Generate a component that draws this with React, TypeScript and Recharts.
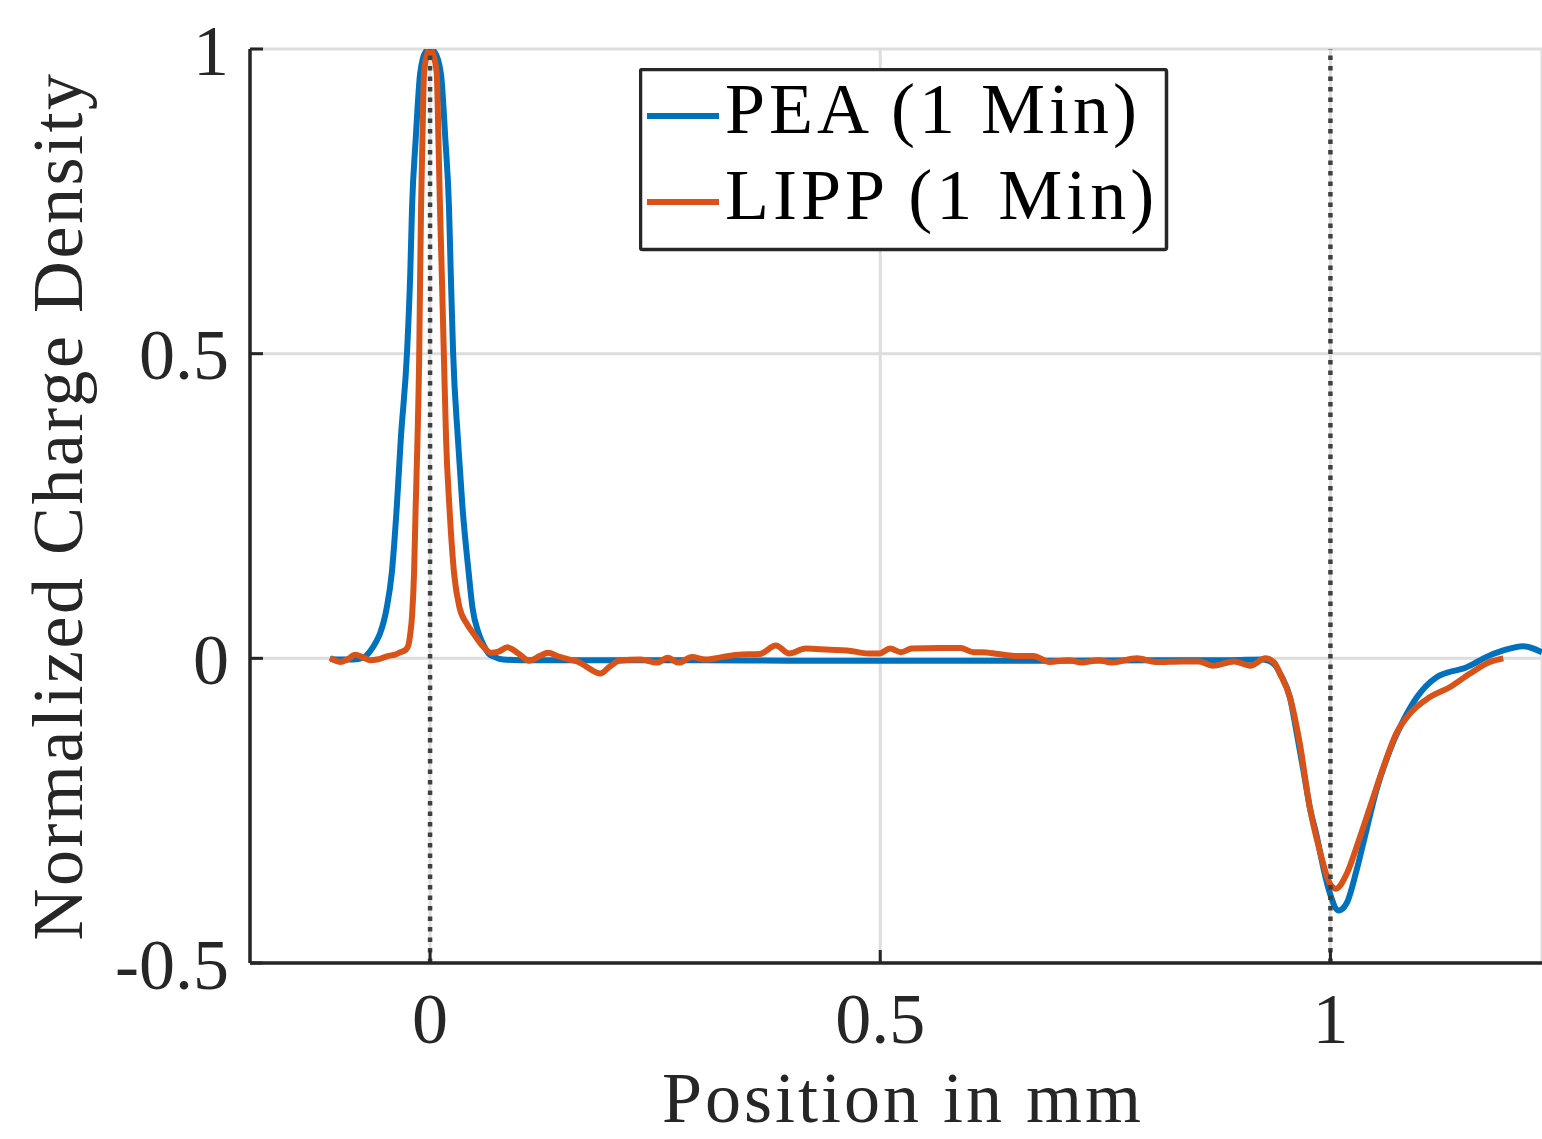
// Normalized charge density profiles, PEA vs. LIPP, drawn with Recharts

import { LineChart, Line, XAxis, YAxis, CartesianGrid, ReferenceLine, Legend, Label } from 'recharts';

// position in mm / normalized density
const peaX = [
  -0.111, -0.1, -0.09, -0.08, -0.072, -0.066, -0.06, -0.0555, -0.048, -0.0426, -0.037, -0.0326,
  -0.0255, -0.022, -0.02, -0.016, -0.011, -0.005, 0, 0.005, 0.012, 0.017, 0.021, 0.023, 0.0255,
  0.031, 0.036, 0.043, 0.047, 0.054, 0.06, 0.065, 0.072, 0.081, 0.1, 0.2, 0.3, 0.4, 0.5, 0.6, 0.7,
  0.8, 0.888, 0.925, 0.933, 0.94, 0.944, 0.955, 0.962, 0.97, 0.977, 0.985, 0.992, 0.9995, 1.009,
  1.018, 1.029, 1.04, 1.051, 1.066, 1.081, 1.096, 1.118, 1.133, 1.147, 1.159, 1.17, 1.192, 1.214,
  1.235,
];
const peaY = [
  -0.001, -0.002, -0.002, -0.001, 0.003, 0.013, 0.027, 0.041, 0.084, 0.139, 0.248, 0.358,
  0.505, 0.632, 0.741, 0.851, 0.96, 0.995, 1.0, 0.995, 0.96, 0.851, 0.741, 0.632, 0.505,
  0.358, 0.248, 0.139, 0.084, 0.041, 0.02, 0.008, 0.002, -0.002, -0.003, -0.003, -0.003, -0.004,
  -0.004, -0.004, -0.004, -0.003, -0.003, -0.002, -0.005, -0.014, -0.025, -0.064, -0.118, -0.184,
  -0.244, -0.293, -0.343, -0.386, -0.414, -0.402, -0.348, -0.282, -0.217, -0.151, -0.102, -0.064,
  -0.031, -0.022, -0.017, -0.009, 0.0, 0.013, 0.02, 0.01,
];

const lippX = [
  -0.111, -0.105, -0.1, -0.092, -0.083, -0.075, -0.067, -0.059, -0.052, -0.046, -0.039, -0.033,
  -0.027, -0.024, -0.022, -0.02, -0.0178, -0.016, -0.014, -0.012, -0.011, -0.01, -0.0085, -0.0067,
  -0.003, 0, 0.003, 0.0074, 0.0093, 0.011, 0.013, 0.0152, 0.0178, 0.0215, 0.0267, 0.0326, 0.0407,
  0.048, 0.059, 0.068, 0.076, 0.086, 0.098, 0.11, 0.122, 0.131, 0.143, 0.155, 0.165, 0.174, 0.189,
  0.2, 0.21, 0.234, 0.252, 0.264, 0.276, 0.291, 0.306, 0.324, 0.342, 0.366, 0.384, 0.399, 0.417,
  0.444, 0.463, 0.487, 0.499, 0.511, 0.523, 0.535, 0.565, 0.589, 0.604, 0.613, 0.631, 0.649, 0.67,
  0.688, 0.709, 0.724, 0.742, 0.757, 0.785, 0.806, 0.836, 0.854, 0.869, 0.893, 0.911, 0.928, 0.937,
  0.944, 0.955, 0.966, 0.977, 0.988, 0.9995, 1.006, 1.018, 1.029, 1.044, 1.059, 1.073, 1.088, 1.11,
  1.133, 1.155, 1.177, 1.192,
];
const lippY = [
  0.001, -0.004, -0.006, -0.002, 0.006, 0.002, -0.003, -0.002, 0.001, 0.004, 0.006, 0.01,
  0.014, 0.022, 0.04, 0.07, 0.139, 0.248, 0.358, 0.505, 0.632, 0.741, 0.851, 0.96,
  0.993, 1.0, 0.993, 0.96, 0.851, 0.741, 0.632, 0.505, 0.358, 0.248, 0.139, 0.084, 0.057,
  0.041, 0.019, 0.009, 0.011, 0.018, 0.008, -0.004, 0.004, 0.009, 0.003, -0.002, -0.006, -0.014, -0.025,
  -0.013, -0.004, -0.002, -0.007, 0.001, -0.007, 0.002, -0.002, 0.002, 0.006, 0.007, 0.021, 0.008, 0.016,
  0.014, 0.013, 0.008, 0.008, 0.016, 0.01, 0.016, 0.017, 0.017, 0.01, 0.01, 0.007, 0.004, 0.004,
  -0.006, -0.003, -0.007, -0.003, -0.007, 0.0, -0.006, -0.005, -0.005, -0.012, -0.005, -0.012, 0.0, -0.006,
  -0.025, -0.064, -0.14, -0.244, -0.315, -0.37, -0.378, -0.354, -0.31, -0.244, -0.178, -0.124, -0.091, -0.064,
  -0.047, -0.025, -0.006, 0.0,
];

const xTicks = [0, 0.5, 1];
const yTicks = [-0.5, 0, 0.5, 1];
const electrodeLines = [0, 1];
const seriesNames = ['PEA (1 Min)', 'LIPP (1 Min)'];
const COLORS = ['#0072BD', '#D95319'];

const FONT = '"Liberation Serif", "Times New Roman", serif';
const INK = '#262626';

const peaData = peaX.map((x, i) => ({ x, y: peaY[i] }));
const lippData = lippX.map((x, i) => ({ x, y: lippY[i] }));

function LegendBox() {
  return (
    <svg width={530} height={184} style={{ display: 'block' }}>
      <rect x={1.5} y={1.5} width={526} height={180} fill="#fff" stroke={INK} strokeWidth={3.5} rx={2} />
      {seriesNames.map((name, i) => (
        <g key={name}>
          <line x1={8} x2={80} y1={48 + i * 86} y2={48 + i * 86} stroke={COLORS[i]} strokeWidth={6} />
          <text x={86} y={65 + i * 86} fontFamily={FONT} fontSize={72} letterSpacing={4} fill="#000">
            {name}
          </text>
        </g>
      ))}
    </svg>
  );
}

export default function App() {
  const tickStyle = { fontFamily: FONT, fontSize: 72, fill: INK };

  return (
    <div style={{ position: 'absolute', left: 0, top: 0, background: '#fff' }}>
      <LineChart width={1542} height={1139} margin={{ top: 49, right: 0, bottom: 0, left: 0 }}>
        <CartesianGrid stroke="#dddddd" strokeWidth={3} />
        <XAxis
          type="number"
          dataKey="x"
          domain={[-0.2, 1.235]}
          ticks={xTicks}
          allowDataOverflow
          height={176}
          tick={tickStyle}
          tickSize={-13}
          tickMargin={42}
          axisLine={{ stroke: INK, strokeWidth: 3.5 }}
          tickLine={{ stroke: INK, strokeWidth: 3 }}
        >
          <Label
            content={() => (
              <text x={903} y={1122} textAnchor="middle" fontFamily={FONT} fontSize={72} letterSpacing={3} fill={INK}>
                Position in mm
              </text>
            )}
          />
        </XAxis>
        <YAxis
          type="number"
          domain={[-0.5, 1]}
          ticks={yTicks}
          allowDataOverflow
          width={250}
          tick={tickStyle}
          tickSize={-13}
          tickMargin={34}
          axisLine={{ stroke: INK, strokeWidth: 3.5 }}
          tickLine={{ stroke: INK, strokeWidth: 3 }}
        >
          <Label
            content={() => (
              <text
                x={82}
                y={506}
                transform="rotate(-90, 82, 506)"
                textAnchor="middle"
                fontFamily={FONT}
                fontSize={72}
                letterSpacing={2.5}
                fill={INK}
              >
                Normalized Charge Density
              </text>
            )}
          />
        </YAxis>
        <Line
          data={peaData}
          dataKey="y"
          name={seriesNames[0]}
          type="monotone"
          stroke={COLORS[0]}
          strokeWidth={6}
          dot={false}
          activeDot={false}
          isAnimationActive={false}
        />
        <Line
          data={lippData}
          dataKey="y"
          name={seriesNames[1]}
          type="monotone"
          stroke={COLORS[1]}
          strokeWidth={6}
          dot={false}
          activeDot={false}
          isAnimationActive={false}
        />
        {electrodeLines.map((x) => (
          <ReferenceLine key={x} x={x} stroke="#404040" strokeWidth={4.5} strokeDasharray="4.5 6" />
        ))}
        <Legend
          layout="vertical"
          align="center"
          verticalAlign="middle"
          content={() => <LegendBox />}
          wrapperStyle={{ left: 639, top: 68, width: 530, height: 184 }}
        />
      </LineChart>
    </div>
  );
}
